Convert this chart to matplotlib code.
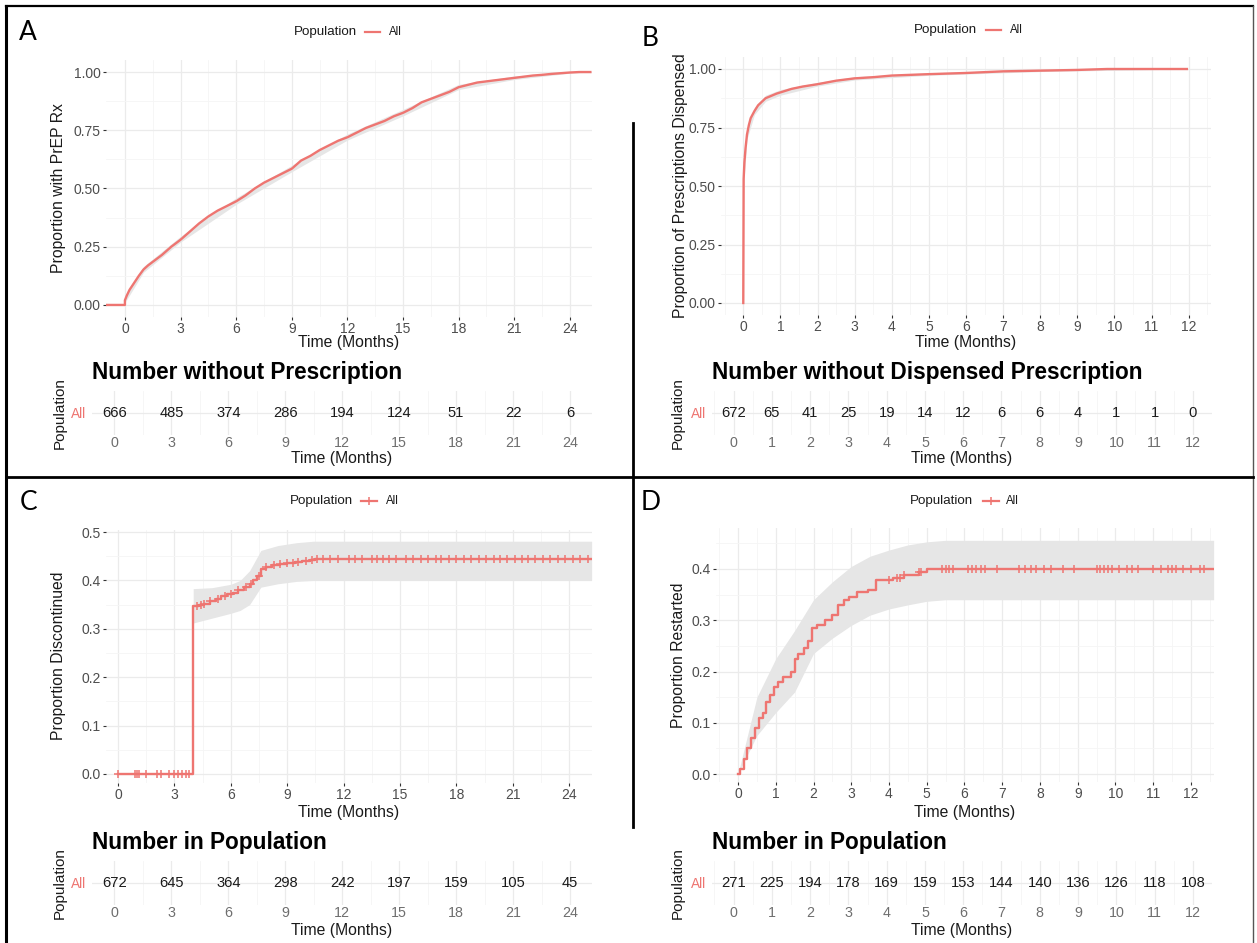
import numpy as np
import matplotlib
matplotlib.use('Agg')
import matplotlib.pyplot as plt
from matplotlib.lines import Line2D
from matplotlib.ticker import MultipleLocator, FormatStrFormatter

# ---------------- data ----------------
# Panel A: proportion with PrEP Rx
a_time = [-1.05, 0.0, 0.0, 0.1, 0.25, 0.5, 0.75, 1.0, 1.25, 1.5,
          2.0, 2.5, 3.0, 3.5, 4.0, 4.5, 5.0, 5.5, 6.0, 6.5,
          7.0, 7.5, 8.0, 8.5, 9.0, 9.5, 10.0, 10.5, 11.0, 11.5,
          12.0, 12.5, 13.0, 13.5, 14.0, 14.5, 15.0, 15.5, 16.0, 16.5,
          17.0, 17.5, 18.0, 18.5, 19.0, 19.5, 20.0, 20.5, 21.0, 21.5,
          22.0, 22.5, 23.0, 23.5, 24.0, 24.5, 25.1]
a_prop = [0.0, 0.0, 0.02, 0.04, 0.065, 0.095, 0.125, 0.152, 0.17, 0.185,
          0.215, 0.25, 0.28, 0.315, 0.35, 0.38, 0.405, 0.425, 0.445, 0.47,
          0.5, 0.525, 0.545, 0.565, 0.585, 0.62, 0.64, 0.665, 0.685, 0.705,
          0.72, 0.74, 0.76, 0.775, 0.79, 0.81, 0.825, 0.845, 0.87, 0.885,
          0.9, 0.915, 0.935, 0.945, 0.955, 0.96, 0.965, 0.97, 0.975, 0.98,
          0.985, 0.988, 0.992, 0.995, 0.998, 1.0, 1.0]
a_ci_time = [0.0, 1.0, 3.0, 6.0, 9.0, 12.0, 15.0, 18.0, 21.0, 24.0, 25.1]
a_ci_lo = [0.01, 0.14, 0.27, 0.432, 0.572, 0.708, 0.812, 0.925, 0.968, 0.995, 1.0]
a_ci_hi = [0.03, 0.165, 0.295, 0.46, 0.6, 0.734, 0.84, 0.947, 0.983, 1.0, 1.0]
a_tab_time = [0, 3, 6, 9, 12, 15, 18, 21, 24]
a_tab_n = [666, 485, 374, 286, 194, 124, 51, 22, 6]

# Panel B: proportion of prescriptions dispensed
b_time = [0.0, 0.01, 0.03, 0.06, 0.1, 0.15, 0.2, 0.3, 0.4, 0.5,
          0.6, 0.75, 0.9, 1.1, 1.3, 1.6, 2.0, 2.5, 3.0, 3.5,
          4.0, 5.0, 6.0, 7.0, 8.0, 9.0, 9.8, 11.95]
b_prop = [0.0, 0.53, 0.6, 0.66, 0.72, 0.76, 0.79, 0.82, 0.845, 0.86,
          0.875, 0.885, 0.895, 0.905, 0.915, 0.925, 0.935, 0.95, 0.96, 0.965,
          0.972, 0.978, 0.983, 0.99, 0.993, 0.996, 1.0, 1.0]
b_ci_time = [0.01, 0.1, 0.3, 0.6, 1.0, 2.0, 3.0, 5.0, 8.0, 11.95]
b_ci_lo = [0.50, 0.70, 0.805, 0.862, 0.888, 0.927, 0.953, 0.973, 0.989, 1.0]
b_ci_hi = [0.56, 0.74, 0.835, 0.888, 0.912, 0.943, 0.967, 0.984, 0.997, 1.0]
b_tab_time = [0, 1, 2, 3, 4, 5, 6, 7, 8, 9, 10, 11, 12]
b_tab_n = [672, 65, 41, 25, 19, 14, 12, 6, 6, 4, 1, 1, 0]

# Panel C: proportion discontinued
c_time = [0.0, 4.0, 4.3, 4.6, 4.9, 5.2, 5.5, 5.8, 6.1, 6.4,
          6.7, 7.0, 7.2, 7.4, 7.6, 7.9, 8.2, 8.6, 9.0, 9.4,
          9.8, 10.2, 10.5, 25.2]
c_prop = [0.0, 0.347, 0.349, 0.352, 0.358, 0.362, 0.367, 0.372, 0.375, 0.381,
          0.386, 0.393, 0.400, 0.41, 0.424, 0.428, 0.431, 0.434, 0.437, 0.439,
          0.441, 0.443, 0.445, 0.445]
c_ci_time = [4.0, 5.0, 6.0, 6.5, 7.0, 7.6, 8.5, 9.5, 10.4, 25.2]
c_ci_lo = [0.312, 0.322, 0.332, 0.338, 0.35, 0.386, 0.393, 0.398, 0.40, 0.40]
c_ci_hi = [0.383, 0.385, 0.392, 0.40, 0.42, 0.462, 0.472, 0.478, 0.481, 0.481]
c_censor = [0.0, 0.9, 1.0, 1.1, 1.5, 2.1, 2.3, 2.7, 3.0, 3.2, 3.4, 3.6, 3.8,
            4.2, 4.4, 4.6, 4.9, 5.3, 5.7, 6.0, 6.4, 6.8, 7.1, 7.5, 7.9, 8.3,
            8.6, 9.0, 9.3, 9.6, 10.0, 10.3, 10.6, 10.9, 11.3, 11.7, 12.3, 12.6,
            13.0, 13.5, 13.8, 14.1, 14.4, 14.8, 15.3, 15.7, 16.1, 16.5, 16.9,
            17.2, 17.6, 18.0, 18.4, 18.8, 19.2, 19.6, 20.0, 20.3, 20.7, 21.1,
            21.5, 21.8, 22.2, 22.6, 23.0, 23.4, 23.8, 24.2, 24.6, 25.0]
c_tab_time = [0, 3, 6, 9, 12, 15, 18, 21, 24]
c_tab_n = [672, 645, 364, 298, 242, 197, 159, 105, 45]

# Panel D: proportion restarted
d_time = [0.0, 0.05, 0.15, 0.25, 0.35, 0.45, 0.55, 0.65, 0.75, 0.85,
          0.95, 1.05, 1.2, 1.4, 1.5, 1.6, 1.75, 1.85, 1.95, 2.1,
          2.3, 2.5, 2.65, 2.8, 2.95, 3.15, 3.45, 3.65, 4.1, 4.4,
          4.8, 5.0, 12.6]
d_prop = [0.0, 0.01, 0.03, 0.05, 0.07, 0.09, 0.11, 0.12, 0.14, 0.155,
          0.17, 0.18, 0.19, 0.2, 0.225, 0.235, 0.245, 0.26, 0.285, 0.29,
          0.3, 0.31, 0.33, 0.34, 0.345, 0.355, 0.36, 0.378, 0.382, 0.388,
          0.394, 0.4, 0.4]
d_ci_time = [0.0, 0.5, 1.0, 1.5, 2.0, 2.5, 3.0, 3.5, 4.0, 4.5, 5.0, 5.5, 12.6]
d_ci_lo = [0.0, 0.075, 0.12, 0.16, 0.235, 0.265, 0.29, 0.31, 0.322, 0.33, 0.337, 0.34, 0.34]
d_ci_hi = [0.0, 0.15, 0.225, 0.28, 0.34, 0.375, 0.405, 0.425, 0.437, 0.447, 0.453, 0.456, 0.456]
d_censor = [4.0, 4.2, 4.3, 4.4, 4.8, 4.85, 5.4, 5.5, 5.6, 5.7, 6.1, 6.2, 6.3,
            6.45, 6.55, 6.85, 7.45, 7.6, 7.75, 7.9, 8.1, 8.3, 8.6, 8.9, 9.5,
            9.6, 9.7, 9.8, 9.9, 10.1, 10.3, 10.45, 10.6, 11.0, 11.2, 11.4,
            11.5, 11.6, 11.8, 12.0, 12.25, 12.35]
d_tab_time = [0, 1, 2, 3, 4, 5, 6, 7, 8, 9, 10, 11, 12]
d_tab_n = [271, 225, 194, 178, 169, 159, 153, 144, 140, 136, 126, 118, 108]

# ---------------- style ----------------
W, H = 1257, 943
FONT = 'Liberation Sans'
plt.rcParams['font.family'] = [FONT, 'DejaVu Sans']
RED = '#EE7571'
GRID = '#EBEBEB'
GRIDMIN = '#F5F5F5'
BAND = '#E6E6E6'
TXT = '#1A1A1A'
AXT = 11.3      # axis title size
TICK = 10.0
TITLE = 16.3

fig = plt.figure(figsize=(W / 100, H / 100), dpi=100)
fig.patch.set_facecolor('white')


def px_axes(left, top, right, bottom):
    return fig.add_axes([left / W, 1 - bottom / H, (right - left) / W, (bottom - top) / H])


def ftext(x, y, s, **kw):
    return fig.text(x / W, 1 - y / H, s, **kw)


def fline(xs, ys, **kw):
    fig.add_artist(Line2D([x / W for x in xs], [1 - y / H for y in ys], **kw))


def step_value(times, vals, t):
    idx = np.searchsorted(np.asarray(times), t, side='right') - 1
    return np.asarray(vals)[np.clip(idx, 0, len(vals) - 1)]


def style_plot(ax, xlim, ylim, xmaj, xmin, ymaj, ymin, yfmt):
    ax.set_xlim(*xlim)
    ax.set_ylim(*ylim)
    for s in ax.spines.values():
        s.set_visible(False)
    ax.xaxis.set_major_locator(MultipleLocator(xmaj))
    ax.xaxis.set_minor_locator(MultipleLocator(xmin))
    ax.yaxis.set_major_locator(MultipleLocator(ymaj))
    ax.yaxis.set_minor_locator(MultipleLocator(ymin))
    ax.yaxis.set_major_formatter(FormatStrFormatter(yfmt))
    ax.grid(which='major', color=GRID, lw=0.9)
    ax.grid(which='minor', color=GRIDMIN, lw=0.6)
    ax.set_axisbelow(True)
    ax.tick_params(which='major', length=2.2, width=0.8, color='#333333',
                   labelcolor='#4D4D4D', labelsize=TICK, pad=1.5)
    ax.tick_params(which='minor', length=0)
    ax.patch.set_alpha(0)


def style_table(ax, xlim, ticks, counts):
    ax.set_xlim(*xlim)
    ax.set_ylim(-0.5, 0.5)
    for s in ax.spines.values():
        s.set_visible(False)
    ax.set_xticks(ticks)
    step = ticks[1] - ticks[0]
    ax.xaxis.set_minor_locator(MultipleLocator(step / 2))
    ax.set_yticks([0])
    ax.set_yticklabels(['All'])
    ax.grid(which='major', color=GRID, lw=0.9)
    ax.grid(which='minor', axis='x', color=GRIDMIN, lw=0.6)
    ax.set_axisbelow(True)
    ax.tick_params(axis='x', which='both', length=0, labelcolor='#6E6E6E',
                   labelsize=10.3, pad=1)
    ax.tick_params(axis='y', length=0, labelcolor=RED, labelsize=9.8, pad=4)
    for t, n in zip(ticks, counts):
        ax.text(t, 0, str(n), ha='center', va='center', fontsize=10.6, color=TXT)
    ax.patch.set_alpha(0)


def legend(xpop_right, xkey0, xkey1, xall, y, censor=False):
    ftext(xpop_right, y, 'Population', ha='right', va='center', fontsize=9.6, color=TXT)
    fline([xkey0, xkey1], [y, y], color=RED, lw=1.6)
    if censor:
        fig.add_artist(Line2D([(xkey0 + xkey1) / 2 / W], [1 - y / H], marker='+',
                              color=RED, ms=6, mew=1.1, lw=0))
    ftext(xall, y, 'All', ha='left', va='center', fontsize=8.3, color=TXT)


# ---------------- Panel A ----------------
axA = px_axes(106, 60.4, 592, 316.6)
style_plot(axA, (-1.02, 25.19), (-0.05, 1.05), 3, 1.5, 0.25, 0.125, '%.2f')
axA.fill_between(a_ci_time, a_ci_lo, a_ci_hi, color=BAND, lw=0)
axA.plot(a_time, a_prop, color=RED, lw=1.7)
ftext(59, 188, 'Proportion with PrEP Rx', rotation=90, ha='center', va='center',
      fontsize=AXT, color=TXT)
ftext(349, 343, 'Time (Months)', ha='center', va='center', fontsize=AXT, color=TXT)
legend(357, 365, 380, 389, 32)
ftext(28, 33, 'A', ha='center', va='center', fontsize=19, family='Lato', color='black')

tA = px_axes(92, 391, 592, 435)
style_table(tA, (-1.185, 25.16), a_tab_time, a_tab_n)
ftext(92, 373, 'Number without Prescription', ha='left', va='center', fontsize=TITLE,
      fontweight='bold', color='black')
ftext(342, 459, 'Time (Months)', ha='center', va='center', fontsize=AXT, color=TXT)
ftext(60, 413, 'Population', rotation=90, ha='center', va='center', fontsize=11, color=TXT)

# ---------------- Panel B ----------------
axB = px_axes(721, 57.3, 1211, 314.7)
style_plot(axB, (-0.6, 12.6), (-0.05, 1.05), 1, 0.5, 0.25, 0.125, '%.2f')
axB.fill_between(b_ci_time, b_ci_lo, b_ci_hi, color=BAND, lw=0)
axB.plot(b_time, b_prop, color=RED, lw=1.7)
ftext(680, 186, 'Proportion of Prescriptions Dispensed', rotation=90, ha='center',
      va='center', fontsize=AXT, color=TXT)
ftext(966, 343, 'Time (Months)', ha='center', va='center', fontsize=AXT, color=TXT)
legend(977, 986, 1001, 1010, 30)
ftext(650, 38, 'B', ha='center', va='center', fontsize=19, family='Lato', color='black')

tB = px_axes(712, 391, 1212, 435)
style_table(tB, (-0.564, 12.5), b_tab_time, b_tab_n)
ftext(712, 373, 'Number without Dispensed Prescription', ha='left', va='center',
      fontsize=TITLE, fontweight='bold', color='black')
ftext(962, 459, 'Time (Months)', ha='center', va='center', fontsize=AXT, color=TXT)
ftext(678, 413, 'Population', rotation=90, ha='center', va='center', fontsize=11, color=TXT)

# ---------------- Panel C ----------------
axC = px_axes(106, 529.6, 592, 782.7)
style_plot(axC, (-0.64, 25.22), (-0.018, 0.505), 3, 1.5, 0.1, 0.05, '%.1f')
axC.fill_between(c_ci_time, c_ci_lo, c_ci_hi, color=BAND, lw=0)
axC.step(c_time, c_prop, where='post', color=RED, lw=1.7)
axC.plot(c_censor, step_value(c_time, c_prop, c_censor), ls='none', marker='+',
         color=RED, ms=6, mew=1.1)
ftext(59, 656, 'Proportion Discontinued', rotation=90, ha='center', va='center',
      fontsize=AXT, color=TXT)
ftext(349, 813, 'Time (Months)', ha='center', va='center', fontsize=AXT, color=TXT)
legend(353, 361, 377, 386, 501, censor=True)
ftext(29, 502, 'C', ha='center', va='center', fontsize=19, family='Lato', color='black')

tC = px_axes(92, 861, 592, 905)
style_table(tC, (-1.185, 25.16), c_tab_time, c_tab_n)
ftext(92, 843, 'Number in Population', ha='left', va='center', fontsize=TITLE,
      fontweight='bold', color='black')
ftext(342, 930, 'Time (Months)', ha='center', va='center', fontsize=AXT, color=TXT)
ftext(60, 883, 'Population', rotation=90, ha='center', va='center', fontsize=11, color=TXT)

# ---------------- Panel D ----------------
axD = px_axes(716, 528, 1214, 782.2)
style_plot(axD, (-0.583, 12.61), (-0.016, 0.48), 1, 0.5, 0.1, 0.05, '%.1f')
axD.fill_between(d_ci_time, d_ci_lo, d_ci_hi, color=BAND, lw=0)
axD.step(d_time, d_prop, where='post', color=RED, lw=1.7)
axD.plot(d_censor, step_value(d_time, d_prop, d_censor), ls='none', marker='+',
         color=RED, ms=6, mew=1.1)
ftext(678, 655, 'Proportion Restarted', rotation=90, ha='center', va='center',
      fontsize=AXT, color=TXT)
ftext(965, 813, 'Time (Months)', ha='center', va='center', fontsize=AXT, color=TXT)
legend(973, 983, 999, 1006, 501, censor=True)
ftext(651, 502, 'D', ha='center', va='center', fontsize=19, family='Lato', color='black')

tD = px_axes(712, 861, 1212, 905)
style_table(tD, (-0.564, 12.5), d_tab_time, d_tab_n)
ftext(712, 843, 'Number in Population', ha='left', va='center', fontsize=TITLE,
      fontweight='bold', color='black')
ftext(962, 930, 'Time (Months)', ha='center', va='center', fontsize=AXT, color=TXT)
ftext(678, 883, 'Population', rotation=90, ha='center', va='center', fontsize=11, color=TXT)

# ---------------- frame lines ----------------
fline([6, 1253], [6, 6], color='black', lw=1.6)
fline([6, 6], [6, 943], color='black', lw=2.2)
fline([1253, 1253], [6, 943], color='#555555', lw=1.0)
fline([6, 1253], [477, 477], color='black', lw=2.0)
fline([633, 633], [123, 827], color='black', lw=2.0)

fig.savefig('out.png', dpi=100, facecolor='white')
